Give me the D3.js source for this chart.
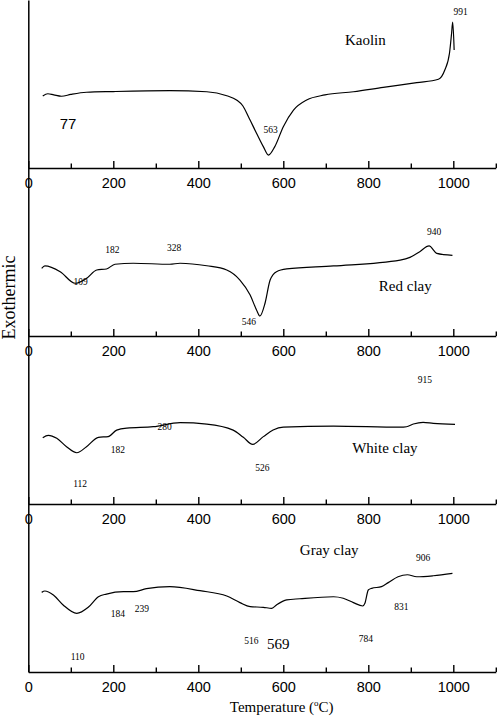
<!DOCTYPE html>
<html>
<head>
<meta charset="utf-8">
<script src="https://cdn.jsdelivr.net/npm/d3@7/dist/d3.min.js"></script>
<style>
  html, body { margin: 0; padding: 0; background: #fff; }
  svg { display: block; }
</style>
</head>
<body>
<script>
// ---------- data: [temperature °C, DTA signal (a.u., 0-100 per panel)] ----------
const kaolin = [
  [34,42.9],[46,44.2],[60,43.5],[78,42.7],[100,43.8],[137,45.1],[200,45.5],[333,46.0],
  [420,45.4],[467,43.0],[490,40.5],[505,36.9],[518,30.5],[537,20.7],[553,12.7],[565,7.7],
  [580,12.7],[600,24.6],[624,34.5],[655,40.5],[698,43.5],[765,45.4],[835,48.0],[914,50.8],
  [965,52.8],[980,58.3],[991,68.3],[996,80.2],[998.6,86.9],[1002,70.2]
];
const redClay = [
  [31.5,40.3],[39,41.7],[75,38.3],[110,31.4],[137,34.3],[161,39.3],[184,39.9],[204,42.7],
  [247,43.3],[333,42.7],[357,43.3],[420,41.8],[467,39.3],[498,33.3],[522,24.4],[537,15.5],
  [545,11.9],[557,19.5],[569,33.3],[584,38.3],[608,39.9],[718,41.7],[875,45.2],[898,46.8],
  [921,50.2],[943,53.6],[961,49.2],[998,48.0]
];
const whiteClay = [
  [34,39.5],[47,40.9],[67,39.1],[90,34.1],[114,30.5],[137,34.1],[165,39.7],[188,40.1],
  [208,44.0],[232,45.2],[294,46.0],[357,48.4],[420,47.6],[482,44.0],[506,39.7],[528,35.5],
  [553,40.1],[576,44.0],[600,45.7],[718,46.3],[875,45.7],[890,46.0],[906,47.6],[929,48.6],
  [953,48.0],[1004,47.4]
];
const grayClay = [
  [31.5,47.4],[39,48.2],[59,45.8],[82,39.9],[114,34.9],[141,38.5],[165,44.8],[184,46.4],
  [224,47.8],[247,47.8],[278,49.6],[333,50.8],[404,48.4],[467,45.2],[498,41.3],[522,38.9],
  [553,38.5],[573,37.9],[584,39.9],[608,42.9],[639,43.6],[718,44.8],[741,43.9],[765,41.3],
  [787,39.3],[792,40.9],[800,48.8],[808,49.8],[831,50.8],[847,53.2],[870,56.7],[892,57.9],
  [914,56.7],[953,57.3],[998,58.7]
];

const sampleNames = ["Kaolin", "Red clay", "White clay", "Gray clay"];
const majorTicks = [0, 200, 400, 600, 800, 1000];
const minorTicks = [100, 300, 500, 700, 900, 1100];

// peak annotations per panel: [text, temperature anchor, signal anchor]
const kaolinPeaks = [["991",1017,91.1],["563",570,20.7]];
const redPeaks = [["182",198,49.2],["328",343,50.8],["940",955,60.1],["109",123,30.4],["546",519,6.5]];
const whitePeaks = [["915",933,71.8],["280",321,44.0],["182",211,30.2],["526",551,19.8],["112",122,10.3]];
const grayPeaks = [["906",929,66.1],["831",878,36.9],["184",211,32.9],["239",267,35.9],
                   ["516",525,16.5],["784",794,17.7],["110",116,7.1]];
// larger stray labels: [text, temperature anchor, signal anchor]
const kaolinBig = [["77",93.4,23.2]];
const grayBig = [["569",588,13.5]];
const nameAnchors = [[793,73.2],[887,27.0],[839,30.2],[708,69.6]];

const xLabel = "Temperature (";
const yLabel = "Exothermic";

// ---------- layout ----------
const W = 497, H = 716;
const panelH = 168;
const serif = "'Liberation Serif', 'Times New Roman', serif";
const sans = "'Liberation Sans', Arial, sans-serif";

const svg = d3.select("body").append("svg")
  .attr("width", W).attr("height", H)
  .attr("viewBox", `0 0 ${W} ${H}`);

const x = d3.scaleLinear().domain([0, 1100]).range([28.3, 495.8]);

const panels = [
  {data: kaolin, peaks: kaolinPeaks, big: kaolinBig},
  {data: redClay, peaks: redPeaks, big: []},
  {data: whiteClay, peaks: whitePeaks, big: []},
  {data: grayClay, peaks: grayPeaks, big: grayBig}
];

panels.forEach((p, i) => {
  const bottom = panelH * (i + 1);
  const y = d3.scaleLinear().domain([0, 100]).range([bottom, bottom - panelH]);
  const g = svg.append("g");

  // major axis with labels
  const ax = g.append("g")
    .attr("transform", `translate(0,${bottom})`)
    .call(d3.axisBottom(x).tickValues(majorTicks).tickFormat(d3.format("d"))
      .tickSizeInner(-7).tickSizeOuter(0).tickPadding(9.3));
  ax.select(".domain").attr("stroke", "#000").attr("stroke-width", 1.5);
  ax.selectAll(".tick line").attr("stroke", "#000").attr("stroke-width", 1.4);
  ax.selectAll(".tick text").attr("fill", "#000")
    .style("font-family", sans).style("font-size", "14.5px");

  // minor ticks
  const mx = g.append("g")
    .attr("transform", `translate(0,${bottom})`)
    .call(d3.axisBottom(x).tickValues(minorTicks).tickSizeInner(-4.5).tickSizeOuter(0).tickFormat(""));
  mx.select(".domain").remove();
  mx.selectAll(".tick line").attr("stroke", "#000").attr("stroke-width", 1.4);

  // curve
  const line = d3.line().x(d => x(d[0])).y(d => y(d[1])).curve(d3.curveMonotoneX);
  g.append("path").datum(p.data)
    .attr("d", line)
    .attr("fill", "none").attr("stroke", "#000").attr("stroke-width", 1.2)
    .attr("stroke-linejoin", "round");

  // sample name
  g.append("text")
    .attr("x", x(nameAnchors[i][0])).attr("y", y(nameAnchors[i][1]))
    .attr("text-anchor", "middle")
    .style("font-family", serif).style("font-size", "15px")
    .text(sampleNames[i]);

  // peak temperatures
  g.selectAll("text.peak").data(p.peaks).enter().append("text")
    .attr("class", "peak")
    .attr("x", d => x(d[1])).attr("y", d => y(d[2]))
    .attr("text-anchor", "middle")
    .style("font-family", serif).style("font-size", "9.5px")
    .text(d => d[0]);

  g.selectAll("text.big").data(p.big).enter().append("text")
    .attr("class", "big")
    .attr("x", d => x(d[1])).attr("y", d => y(d[2]))
    .attr("text-anchor", "middle")
    .style("font-family", i === 0 ? sans : serif).style("font-size", "15px")
    .text(d => d[0]);
});

// y axis (single vertical line spanning all panels)
const yAll = d3.scaleLinear().domain([0, 1]).range([panelH * 4, 0]);
const yAx = svg.append("g").attr("transform", `translate(${x(0)},0)`)
  .call(d3.axisLeft(yAll).tickValues([]).tickSizeOuter(0));
yAx.select(".domain").attr("stroke", "#000").attr("stroke-width", 1.5);

// axis titles
const xt = svg.append("text")
  .attr("x", 281.7).attr("y", 711.7)
  .attr("text-anchor", "middle")
  .style("font-family", serif).style("font-size", "15px");
xt.append("tspan").text(xLabel);
xt.append("tspan").attr("dy", -6).style("font-size", "9px").text("o");
xt.append("tspan").attr("dy", 6).text("C)");

svg.append("text")
  .attr("transform", "translate(15,297.5) rotate(-90)")
  .attr("text-anchor", "middle")
  .style("font-family", serif).style("font-size", "18px")
  .text(yLabel);
</script>
</body>
</html>
